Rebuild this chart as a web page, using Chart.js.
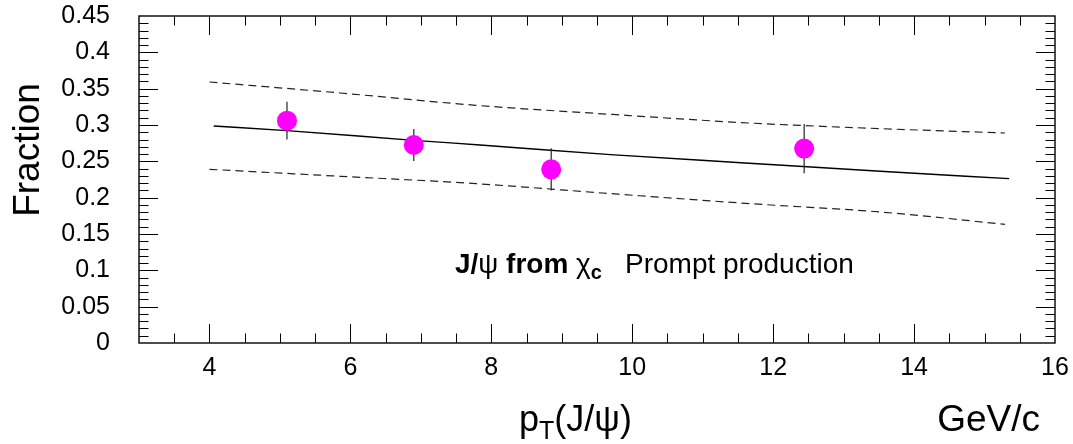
<!DOCTYPE html>
<html>
<head>
<meta charset="utf-8">
<script src="https://cdn.jsdelivr.net/npm/chart.js@4/dist/chart.umd.min.js"></script>
<style>
  html, body { margin: 0; padding: 0; background: #fff; }
  #wrap { width: 1073px; height: 444px; }
</style>
</head>
<body>
<div id="wrap"><canvas id="chart" width="1073" height="444"></canvas></div>
<script>
// measured points (pT in GeV/c, fraction) with symmetric errors
const ptPoints   = [5.10, 6.90, 8.85, 12.44];
const fracPoints = [0.306, 0.2725, 0.239, 0.2675];
const fracErrors = [0.026, 0.022, 0.029, 0.034];

// central curve
const midX = [4.06, 5.10, 6.90, 7.84, 9.69, 11.60, 13.52, 15.35];
const midY = [0.2986, 0.2923, 0.2789, 0.2725, 0.2593, 0.2478, 0.2363, 0.2262];

// dashed band edges
const bandX    = [4.0, 5.86, 7.78, 9.69, 11.67, 13.52, 15.29];
const upperY   = [0.3592, 0.3440, 0.3271, 0.3147, 0.3027, 0.2950, 0.2890];
const lowerY   = [0.2390, 0.2294, 0.2193, 0.2056, 0.1918, 0.1803, 0.1633];

const xTicks = [4, 6, 8, 10, 12, 14, 16];
const yTicks = [0, 0.05, 0.1, 0.15, 0.2, 0.25, 0.3, 0.35, 0.4, 0.45];

const FONT = "'Liberation Sans', Arial, sans-serif";

const toXY = (xs, ys) => xs.map((x, i) => ({ x: x, y: ys[i] }));

const errorSets = ptPoints.map((x, i) => ({
  data: [{ x: x, y: fracPoints[i] - fracErrors[i] }, { x: x, y: fracPoints[i] + fracErrors[i] }],
  showLine: true, borderColor: '#222', borderWidth: 1.2,
  pointRadius: 0, order: 2
}));

// ROOT-style frame, inward ticks and the text labels
const rootFrame = {
  id: 'rootFrame',
  afterDraw(chart) {
    const { ctx, chartArea: a, scales } = chart;
    const xs = scales.x, ys = scales.y;
    ctx.save();
    ctx.strokeStyle = '#000';
    ctx.lineWidth = 1;
    ctx.beginPath();
    for (let i = 1; i < 45; i++) {
      const py = Math.round(ys.getPixelForValue(i * 0.01)) + 0.5;
      const len = i % 5 === 0 ? 19 : 9.5;
      ctx.moveTo(a.left, py); ctx.lineTo(a.left + len, py);
      ctx.moveTo(a.right, py); ctx.lineTo(a.right - len, py);
    }
    for (let i = 1; i < 26; i++) {
      const v = 3 + i * 0.5;
      const px = Math.round(xs.getPixelForValue(v)) + 0.5;
      const len = v % 2 === 0 ? 19 : 9.5;
      ctx.moveTo(px, a.bottom); ctx.lineTo(px, a.bottom - len);
      ctx.moveTo(px, a.top); ctx.lineTo(px, a.top + len);
    }
    ctx.stroke();
    ctx.lineWidth = 1.4;
    ctx.strokeRect(a.left, a.top, a.right - a.left, a.bottom - a.top);

    ctx.fillStyle = '#000';
    ctx.textBaseline = 'alphabetic';
    // y title
    ctx.save();
    ctx.translate(39, 150);
    ctx.rotate(-Math.PI / 2);
    ctx.textAlign = 'center';
    ctx.font = '37px ' + FONT;
    ctx.fillText('Fraction', 0, 0);
    ctx.restore();

    // x title
    ctx.textAlign = 'left';
    let x = 519;
    ctx.font = '36px ' + FONT;
    ctx.fillText('p', x, 431); x += ctx.measureText('p').width;
    ctx.font = '25px ' + FONT;
    ctx.fillText('T', x, 439); x += ctx.measureText('T').width;
    ctx.font = '36px ' + FONT;
    ctx.fillText('(J/\u03C8)', x, 431);
    ctx.font = '37px ' + FONT;
    ctx.textAlign = 'right';
    ctx.fillText('GeV/c', 1040, 431);

    // annotation
    ctx.textAlign = 'left';
    x = 455;
    ctx.font = 'bold 28px ' + FONT;
    ctx.fillText('J/', x, 273); x += ctx.measureText('J/').width;
    ctx.font = '28px ' + FONT;
    ctx.fillText('\u03C8', x, 273); x += ctx.measureText('\u03C8').width;
    ctx.font = 'bold 28px ' + FONT;
    ctx.fillText(' from ', x, 273); x += ctx.measureText(' from ').width;
    ctx.font = '28px ' + FONT;
    ctx.fillText('\u03C7', x, 273); x += ctx.measureText('\u03C7').width;
    ctx.font = 'bold 20px ' + FONT;
    ctx.fillText('c', x, 279);
    ctx.font = '28px ' + FONT;
    ctx.fillText('Prompt production', 625, 273);
    ctx.restore();
  }
};

new Chart(document.getElementById('chart'), {
  type: 'scatter',
  data: {
    datasets: [
      {
        data: toXY(ptPoints, fracPoints),
        backgroundColor: '#ff00ff', borderWidth: 0,
        pointRadius: 10, pointHoverRadius: 10, order: 1
      },
      ...errorSets,
      {
        data: toXY(midX, midY), showLine: true,
        borderColor: '#000', borderWidth: 1.4, pointRadius: 0,
        cubicInterpolationMode: 'monotone', order: 3
      },
      {
        data: toXY(bandX, upperY), showLine: true,
        borderColor: '#222', borderWidth: 1.2, borderDash: [8, 5], pointRadius: 0,
        cubicInterpolationMode: 'monotone', order: 3
      },
      {
        data: toXY(bandX, lowerY), showLine: true,
        borderColor: '#222', borderWidth: 1.2, borderDash: [8, 5], pointRadius: 0,
        cubicInterpolationMode: 'monotone', order: 3
      }
    ]
  },
  options: {
    responsive: false,
    animation: false,
    layout: { padding: { top: 16, right: 18, left: 0, bottom: 0 } },
    plugins: { legend: { display: false }, tooltip: { enabled: false } },
    scales: {
      x: {
        type: 'linear', min: 3, max: 16,
        grid: { display: false, drawTicks: false }, border: { display: false },
        afterBuildTicks: s => { s.ticks = xTicks.map(v => ({ value: v })); },
        afterFit: s => { s.height = 101; s.paddingLeft = 0; s.paddingRight = 0; },
        ticks: { color: '#000', padding: 10, font: { family: FONT, size: 25 }, maxRotation: 0 }
      },
      y: {
        type: 'linear', min: 0, max: 0.45,
        grid: { display: false, drawTicks: false }, border: { display: false },
        afterBuildTicks: s => { s.ticks = yTicks.map(v => ({ value: v })); },
        afterFit: s => { s.width = 139; s.paddingTop = 0; s.paddingBottom = 0; },
        ticks: {
          color: '#000', padding: 29, font: { family: FONT, size: 25 },
          callback: v => String(Number(v.toFixed(2)))
        }
      }
    }
  },
  plugins: [rootFrame]
});
</script>
</body>
</html>
